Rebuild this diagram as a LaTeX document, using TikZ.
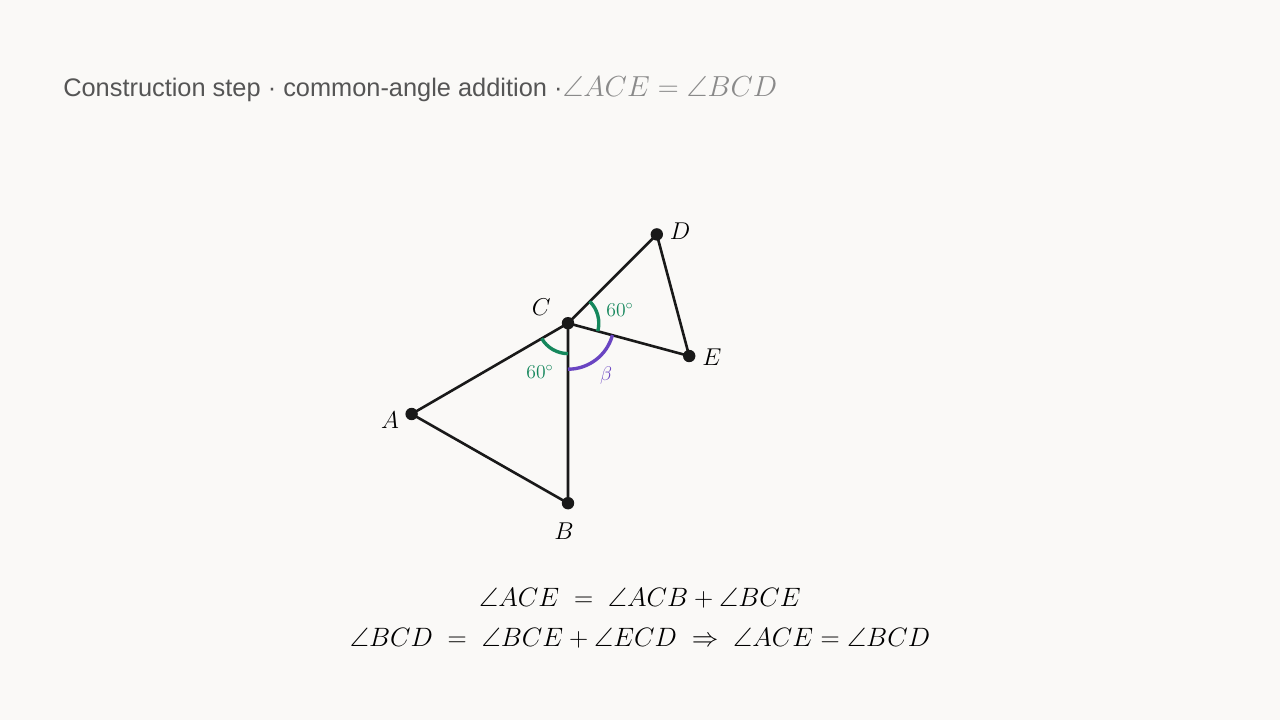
\RequirePackage{fix-cm}
\documentclass[tikz,border=0pt]{standalone}
\usepackage{amsmath, amssymb}
\usepackage{fontspec}
\newfontfamily\titlefont{Liberation Sans}
\usetikzlibrary{positioning}
\definecolor{paper}{HTML}{FAF9F7}
\definecolor{titlegray}{HTML}{555555}
\definecolor{mathgray}{HTML}{8A8A8A}
\definecolor{anglegreen}{HTML}{15875C}
\definecolor{anglepurple}{HTML}{6A45C2}
\tikzset{
  dot/.style={circle, fill=black!90, inner sep=0pt, minimum size=0.31cm},
  edge line/.style={line width=1.85pt, black!90},
  green arc/.style={line width=2.4pt, anglegreen},
  purple arc/.style={line width=2.4pt, anglepurple},
  ptlabel/.style={font=\fontsize{17.3}{21}\selectfont},
  eqlabel/.style={font=\fontsize{18.9}{23}\selectfont},
  anglabel/.style={font=\fontsize{14}{17}\selectfont}
}

\begin{document}
\begin{tikzpicture}
  \fill[paper] (0,0) rectangle (32,18);
  \useasboundingbox (0,0) rectangle (32,18);

  % title
  \node[anchor=base west, inner sep=0pt, text=titlegray, font=\fontsize{18.05}{22}\selectfont] (title) at (1.575,15.575)
    {\titlefont Construction step · common-angle addition ·{\fontsize{20.6}{25}\selectfont\textcolor{mathgray}{$\angle ACE = \angle BCD$}}};

  % points
  \node[dot] (A) at (10.29,7.65) {};
  \node[dot] (B) at (14.2,5.42) {};
  \node[dot] (C) at (14.2,9.92) {};
  \node[dot] (D) at (16.42,12.14) {};
  \node[dot] (E) at (17.23,9.1) {};

  % triangles
  \draw[edge line] (A.center) -- (C.center) -- (B.center) -- cycle;
  \draw[edge line] (C.center) -- (D.center) -- (E.center) -- cycle;

  % angle marks
  \draw[green arc] ([shift={(345:0.77)}]C.center) arc[start angle=345, end angle=405, radius=0.77];
  \draw[green arc] ([shift={(210:0.76)}]C.center) arc[start angle=210, end angle=270, radius=0.76];
  \draw[purple arc] ([shift={(270:1.15)}]C.center) arc[start angle=270, end angle=345, radius=1.15];

  % labels
  \node[ptlabel] (lA) at (9.75,7.5) {$A$};
  \node[ptlabel] (lB) at (14.1,4.72) {$B$};
  \node[ptlabel] (lC) at (13.53,10.33) {$C$};
  \node[ptlabel] (lD) at (17.0,12.22) {$D$};
  \node[ptlabel] (lE) at (17.8,9.07) {$E$};
  \node[anglabel, text=anglegreen] (aDCE) at (15.5,10.25) {$60^\circ$};
  \node[anglabel, text=anglegreen] (aACB) at (13.5,8.7) {$60^\circ$};
  \node[anglabel, text=anglepurple] (aBCE) at (15.15,8.62) {$\beta$};

  % equations
  \node[eqlabel] (eq1) at (16,3.05) {$\angle ACE \;=\; \angle ACB + \angle BCE$};
  \node[eqlabel] (eq2) at (16,2.05) {$\angle BCD \;=\; \angle BCE + \angle ECD \;\Rightarrow\; \angle ACE = \angle BCD$};
\end{tikzpicture}
\end{document}
